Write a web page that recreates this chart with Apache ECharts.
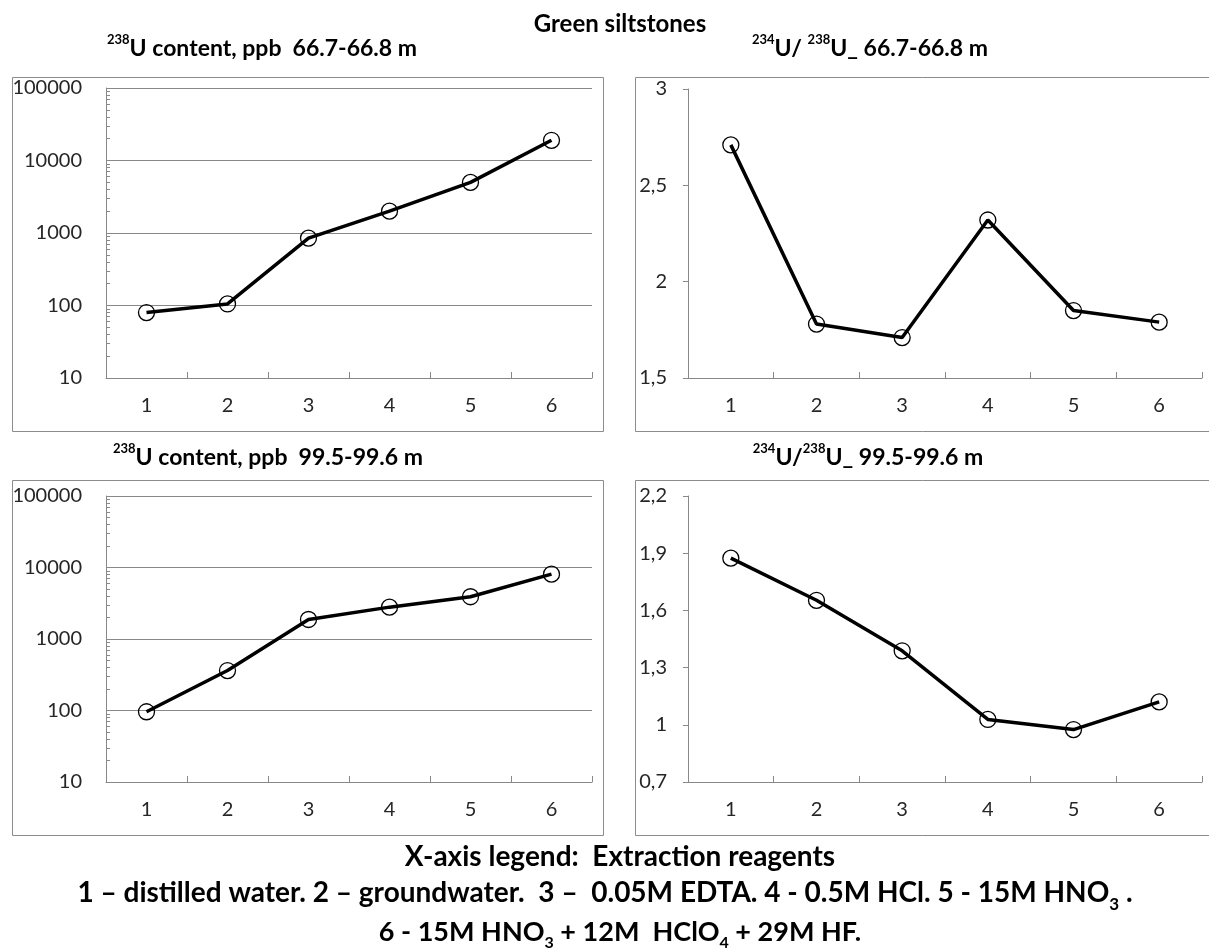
<!DOCTYPE html>
<html>
<head>
<meta charset="utf-8">
<script src="https://cdn.jsdelivr.net/npm/echarts@6/dist/echarts.min.js"></script>
<style>
  html, body { margin: 0; padding: 0; background: #fff; }
  #main { width: 1209px; height: 951px; }
</style>
</head>
<body>
<div id="main"></div>
<script>
// extraction steps 1..6
var reagents = ['1', '2', '3', '4', '5', '6'];

// 66.7-66.8 m
var u238Upper = [80, 105, 850, 2000, 5000, 19000];
var ratioUpper = [2.71, 1.78, 1.71, 2.32, 1.85, 1.79];

// 99.5-99.6 m
var u238Lower = [96, 362, 1875, 2790, 3900, 8070];
var ratioLower = [1.874, 1.653, 1.388, 1.028, 0.975, 1.12];

// axis ticks
var logTicks = [10, 100, 1000, 10000, 100000];
var ratioUpperTicks = [1.5, 2, 2.5, 3];
var ratioLowerTicks = [0.7, 1, 1.3, 1.6, 1.9, 2.2];

var FONT = 'Lato';
var GRAY = '#888888';
var LABEL = '#262626';

var chart = echarts.init(document.getElementById('main'));

function mkTitle(text, x, y, size) {
  return {
    text: text,
    left: x,
    top: y - size * 0.7,
    textAlign: 'center',
    padding: 0,
    textStyle: {
      fontFamily: FONT, fontWeight: 'bold', fontSize: size, color: '#000',
      lineHeight: size * 1.4,
      rich: {
        sup: { fontFamily: FONT, fontWeight: 'bold', fontSize: Math.round(size * 0.55), verticalAlign: 'top', lineHeight: size * 0.9, color: '#000' },
        sub: { fontFamily: FONT, fontWeight: 'bold', fontSize: Math.round(size * 0.6), verticalAlign: 'bottom', lineHeight: size * 0.6, color: '#000' }
      }
    }
  };
}

function xAx(idx) {
  return {
    gridIndex: idx,
    type: 'category',
    data: reagents,
    boundaryGap: true,
    axisLine: { show: true, lineStyle: { color: GRAY, width: 1 } },
    axisTick: { show: true, inside: true, length: 6, lineStyle: { color: GRAY } },
    axisLabel: { margin: 18, fontFamily: FONT, fontSize: 20, color: LABEL },
    splitLine: { show: false }
  };
}

function logAx(idx) {
  return {
    gridIndex: idx,
    type: 'log',
    logBase: 10,
    min: logTicks[0],
    max: logTicks[logTicks.length - 1],
    axisLine: { show: true, lineStyle: { color: GRAY, width: 1 } },
    axisTick: { show: true, inside: true, length: 5, lineStyle: { color: GRAY } },
    minorTick: { show: true, splitNumber: 9, length: 4, lineStyle: { color: GRAY } },
    splitLine: { show: true, lineStyle: { color: GRAY, width: 1 } },
    axisLabel: {
      margin: 24, fontFamily: FONT, fontSize: 20, color: LABEL,
      formatter: function (v) { return String(Math.round(v)); }
    }
  };
}

function ratioAx(idx, ticks) {
  return {
    gridIndex: idx,
    type: 'value',
    min: ticks[0],
    max: ticks[ticks.length - 1],
    axisLine: { show: true, lineStyle: { color: GRAY, width: 1 } },
    axisTick: { show: true, inside: false, length: 5, customValues: ticks, lineStyle: { color: GRAY } },
    splitLine: { show: false },
    axisLabel: {
      margin: 21, fontFamily: FONT, fontSize: 20, color: LABEL, customValues: ticks,
      formatter: function (v) { return String(v).replace('.', ','); }
    }
  };
}

function lineSeries(idx, data) {
  return {
    type: 'line',
    xAxisIndex: idx,
    yAxisIndex: idx,
    data: data,
    symbol: 'circle',
    symbolSize: 16,
    showAllSymbol: true,
    lineStyle: { color: '#000', width: 3.5 },
    itemStyle: { color: 'rgba(0,0,0,0)', borderColor: '#000', borderWidth: 1.3 },
    emphasis: { disabled: true },
    silent: true
  };
}

function box(x, y, w, h) {
  return {
    type: 'rect',
    shape: { x: x + 0.5, y: y + 0.5, width: w, height: h },
    style: { fill: 'none', stroke: '#8c8c8c', lineWidth: 1 },
    z: 0
  };
}

var option = {
  backgroundColor: '#fff',
  animation: false,
  title: [
    mkTitle('Green siltstones', 620, 24, 24),
    mkTitle('{sup|238}U content, ppb  66.7-66.8 m', 262, 49, 23),
    mkTitle('{sup|234}U/ {sup|238}U_ 66.7-66.8 m', 870, 49, 23),
    mkTitle('{sup|238}U content, ppb  99.5-99.6 m', 268, 458, 23),
    mkTitle('{sup|234}U/{sup|238}U_ 99.5-99.6 m', 868, 458, 23),
    mkTitle('X-axis legend:  Extraction reagents', 620, 857, 28),
    mkTitle('1 \u2013 distilled water. 2 \u2013 groundwater.  3 \u2013  0.05M EDTA. 4 - 0.5M HCl. 5 - 15M HNO{sub|3} .', 605, 893, 28),
    mkTitle('6 - 15M HNO{sub|3} + 12M  HClO{sub|4} + 29M HF.', 620, 932, 27)
  ],
  graphic: [
    box(12, 77, 591, 354),
    box(635, 77, 580, 354),
    box(12, 480, 591, 355),
    box(635, 480, 580, 355)
  ],
  grid: [
    { left: 106, right: 617, top: 88, bottom: 573 },
    { left: 688, right: 7, top: 89, bottom: 573 },
    { left: 106, right: 617, top: 496, bottom: 169 },
    { left: 688, right: 7, top: 496, bottom: 169 }
  ],
  xAxis: [xAx(0), xAx(1), xAx(2), xAx(3)],
  yAxis: [logAx(0), ratioAx(1, ratioUpperTicks), logAx(2), ratioAx(3, ratioLowerTicks)],
  series: [
    lineSeries(0, u238Upper),
    lineSeries(1, ratioUpper),
    lineSeries(2, u238Lower),
    lineSeries(3, ratioLower)
  ]
};

chart.setOption(option);
</script>
</body>
</html>
